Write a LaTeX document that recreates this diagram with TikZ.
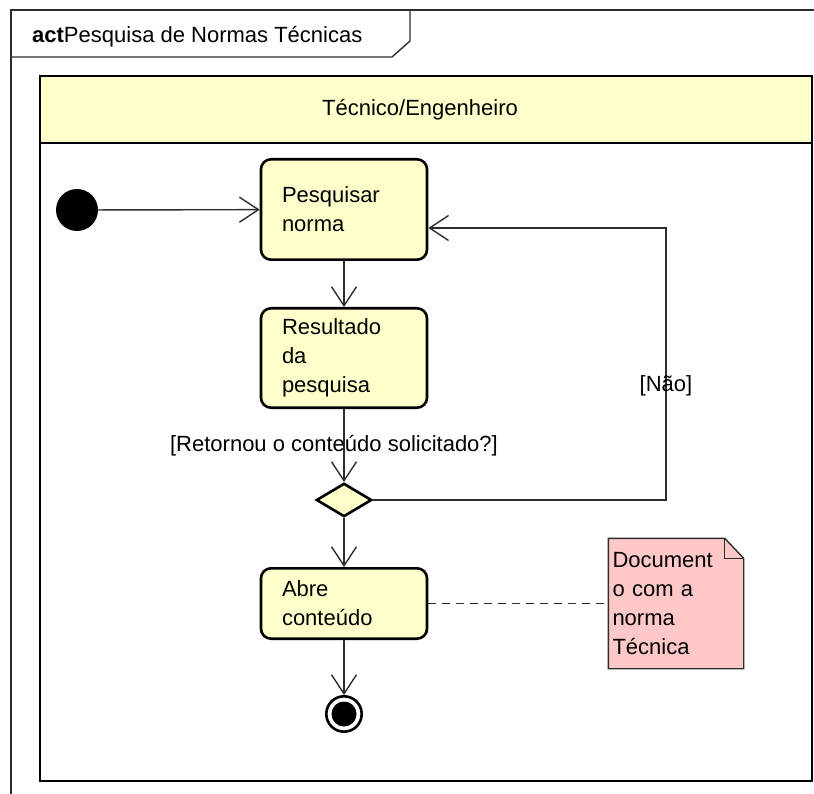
\documentclass[tikz,border=0pt]{standalone}
\usepackage{fontspec}
\setmainfont{Liberation Sans}
\usepackage{tikz}
\usetikzlibrary{arrows.meta,shapes.geometric,calc,positioning}
\definecolor{actfill}{RGB}{255,255,204}
\definecolor{notefill}{RGB}{255,200,200}
\definecolor{edgegray}{RGB}{45,45,45}
\tikzset{action/.style={draw, rectangle, rounded corners=10pt, line width=2.6pt, fill=actfill, text width=124pt, inner xsep=21pt, inner ysep=4pt, align=left, minimum width=163.4pt}}
\tikzset{decision/.style={draw, diamond, line width=2.6pt, fill=actfill, inner sep=0pt, minimum width=55.4pt, minimum height=33.4pt}}
\tikzstyle{flow}=[->, draw=edgegray, line width=1.4pt]
\tikzstyle{notebox}=[text width=127pt, inner xsep=4pt, align=left, minimum height=130pt]

\begin{document}
\begin{tikzpicture}[x=1pt, y=-1pt, >={Straight Barb[length=19pt,width=25pt,line width=1.4pt]}, font=\fontsize{22}{29}\selectfont]
\useasboundingbox (0,0) rectangle (814,794);
\clip (0,0) rectangle (814,794);
% frame and title tab
\draw[edgegray, line width=1.4pt] (830,10) -- (11,10) -- (11,810);
\draw[edgegray, line width=1.4pt] (11,57) -- (392,57) -- (410,41) -- (410,10);
\node[anchor=base west, inner sep=0pt] (title) at (32,43) {\textbf{act}Pesquisa de Normas Técnicas};

% swimlane
\draw[line width=2.8pt] (40,76) rectangle (812,781);
\node[draw, line width=2.8pt, fill=actfill, minimum width=772pt, minimum height=67pt] (lane) at (426,109.5) {\hspace*{-12pt}Técnico/Engenheiro};

% activity nodes
\node[circle, fill=black, inner sep=0pt, minimum size=42pt] (start) at (77,210) {};
\node[action, minimum height=100.4pt] (pesq) at (344,209.5) {Pesquisar\\norma};
\node[action, minimum height=99.4pt, below=46pt of pesq] (result) {Resultado\\da\\pesquisa};
\node[decision, below=73pt of result] (dec) {};
\node[action, minimum height=70.4pt, below=49pt of dec] (abre) {Abre\\conteúdo};
\node[circle, draw, line width=2.6pt, minimum size=35.4pt, inner sep=0pt,
  path picture={\fill (path picture bounding box.center) circle (12.5pt);}, below=55pt of abre] (stop) {};

% note
\node[notebox, right=180pt of abre] (doc) {Document\\o com a\\norma\\Técnica};
\draw[edgegray, line width=1.4pt, fill=notefill] (doc.north west) -- ($(doc.north east)+(-19,0)$) -- ($(doc.north east)+(0,20)$) -- (doc.south east) -- (doc.south west) -- cycle;
\draw[edgegray, line width=1.4pt] ($(doc.north east)+(-19,0)$) |- ($(doc.north east)+(0,20)$);
\node[notebox] at (doc) {Document\\o com a\\norma\\Técnica};

% flows
\coordinate (back) at (666,228);
\draw[flow] (start) -- (pesq);
\draw[flow] (pesq) -- (result);
\draw[flow] (result) -- node[xshift=-10pt] {[Retornou o conteúdo solicitado?]} (dec);
\draw[flow] (dec) -- (abre);
\draw[flow] (abre) -- (stop);
\draw[flow] (dec.east) -| node[pos=0.71] {[Não]} (back) -- (back -| pesq.east);
\draw[edgegray, line width=1.4pt, dash pattern=on 8pt off 6pt] (abre) -- (doc);
\end{tikzpicture}
\end{document}
